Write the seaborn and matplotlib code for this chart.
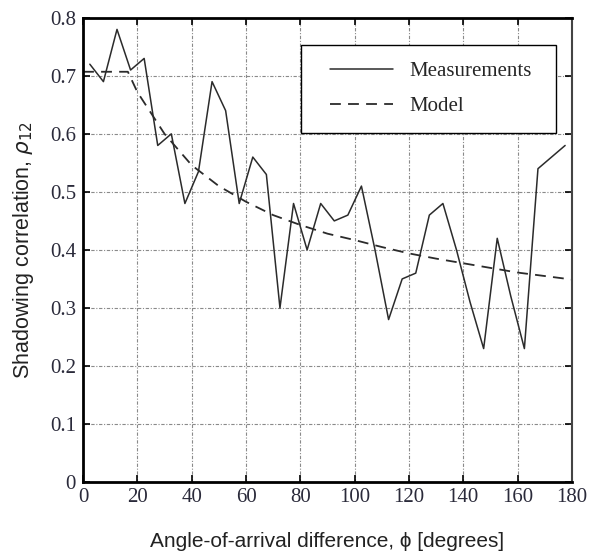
import numpy as np
import pandas as pd
import seaborn as sns
import matplotlib
matplotlib.use("Agg")
import matplotlib.pyplot as plt
from matplotlib.lines import Line2D
from matplotlib.legend_handler import HandlerLine2D

# Measured shadowing correlation vs angle-of-arrival difference (degrees)
meas_angle = [2.5, 7.5, 12.5, 17.5, 22.5, 27.5, 32.5, 37.5, 42.5, 47.5, 52.5, 57.5,
              62.5, 67.5, 72.5, 77.5, 82.5, 87.5, 92.5, 97.5, 102.5, 107.5, 112.5, 117.5,
              122.5, 127.5, 132.5, 137.5, 142.5, 147.5, 152.5, 157.5, 162.5, 167.5, 172.5, 177.5]
meas_corr = [0.72, 0.69, 0.78, 0.71, 0.73, 0.58, 0.60, 0.48, 0.535, 0.69, 0.64, 0.48,
             0.56, 0.53, 0.30, 0.48, 0.40, 0.48, 0.45, 0.46, 0.51, 0.40, 0.28, 0.35,
             0.36, 0.46, 0.48, 0.40, 0.31, 0.23, 0.42, 0.32, 0.23, 0.54, 0.56, 0.58]

# Model curve
model_angle = [0, 16.5, 20, 30, 40, 50, 60, 70, 80, 90, 100, 110, 120, 130, 140, 150, 160, 170, 180]
model_corr = [0.707, 0.707, 0.672, 0.600, 0.546, 0.510, 0.483, 0.460, 0.443, 0.428, 0.417,
              0.405, 0.394, 0.385, 0.377, 0.369, 0.361, 0.355, 0.349]

x_ticks = [0, 20, 40, 60, 80, 100, 120, 140, 160, 180]
y_ticks = [0, 0.1, 0.2, 0.3, 0.4, 0.5, 0.6, 0.7, 0.8]
y_tick_labels = ["0", "0.1", "0.2", "0.3", "0.4", "0.5", "0.6", "0.7", "0.8"]

df_meas = pd.DataFrame({"angle": meas_angle, "corr": meas_corr})
df_model = pd.DataFrame({"angle": model_angle, "corr": model_corr})

sns.set_theme(style="white")
plt.rcParams["font.family"] = ["DejaVu Sans"]

fig = plt.figure(figsize=(5.89, 5.56), dpi=100)
ax = fig.add_axes([0.141, 0.133, 0.830, 0.835])

ax.grid(True, color="#8a8a8a", linestyle=(0, (3, 1.5, 1, 1.5)), linewidth=0.8)
ax.set_axisbelow(True)

sns.lineplot(data=df_meas, x="angle", y="corr", ax=ax, color="#2b2b2b",
             linewidth=1.1, label="Measurements", estimator=None, sort=False)
sns.lineplot(data=df_model, x="angle", y="corr", ax=ax, color="#2b2b2b",
             linewidth=1.3, label="Model", estimator=None, sort=False,
             linestyle=(0, (6, 4)))

ax.set_xlim(0, 180)
ax.set_ylim(0, 0.8)
ax.set_xticks(x_ticks)
ax.set_yticks(y_ticks)
ax.set_yticklabels(y_tick_labels)

serif = ["Liberation Serif", "DejaVu Serif"]
for lab in ax.get_xticklabels() + ax.get_yticklabels():
    lab.set_fontfamily(serif)
    lab.set_fontsize(15)
    lab.set_color("#2a2a3a")

ax.tick_params(axis="both", direction="in", length=5, width=1.2, color="black",
               top=True, right=True, bottom=True, left=True)
ax.tick_params(axis="x", pad=4)
ax.tick_params(axis="y", pad=5)

for side in ["left", "bottom", "top"]:
    ax.spines[side].set_color("black")
    ax.spines[side].set_linewidth(2.0)
ax.spines["right"].set_color("#444444")
ax.spines["right"].set_linewidth(1.5)

ax.set_xlabel("Angle-of-arrival difference, \u03d5 [degrees]", fontsize=15,
              family=["Liberation Sans", "DejaVu Sans"], labelpad=18, color="#222222")
ax.set_ylabel("Shadowing correlation, $\\rho_{12}$", fontsize=15.5,
              family=["Liberation Sans", "DejaVu Sans"], labelpad=10, color="#222222")

# Legend handles start inset from the frame edge
handle_inset = HandlerLine2D(xpad=0.58)
leg = ax.legend(loc="upper left", bbox_to_anchor=(0.446, 0.754, 0.521, 0.188),
                mode="expand", frameon=True, fancybox=False, handlelength=3.6,
                borderpad=0.8, labelspacing=0.75, handletextpad=0.82,
                prop={"family": serif, "size": 15}, borderaxespad=0,
                handler_map={Line2D: handle_inset})
leg.get_frame().set_edgecolor("black")
leg.get_frame().set_linewidth(1.0)
leg.get_frame().set_alpha(1)

fig.savefig("out.png", dpi=100, facecolor="white")
